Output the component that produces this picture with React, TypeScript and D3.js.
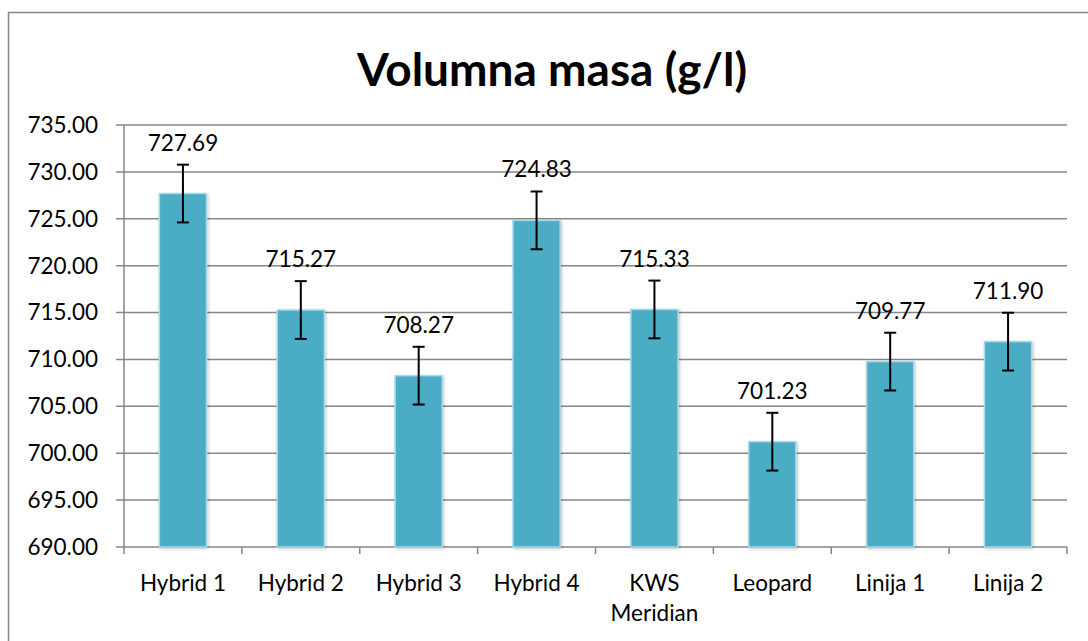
import * as React from "react";
import { scaleBand, scaleLinear, range } from "d3";

const categories = [
  "Hybrid 1",
  "Hybrid 2",
  "Hybrid 3",
  "Hybrid 4",
  "KWS Meridian",
  "Leopard",
  "Linija 1",
  "Linija 2",
];
const values = [727.69, 715.27, 708.27, 724.83, 715.33, 701.23, 709.77, 711.9];
const errors = [3.08, 3.08, 3.08, 3.08, 3.08, 3.08, 3.08, 3.08];
const yTicks = range(690, 735.01, 5);

const FONT = "Lato, 'Open Sans', sans-serif";

export default function App() {
  const width = 1088;
  const height = 641;
  const left = 124;
  const right = 1067;
  const top = 125;
  const bottom = 547;

  const x = scaleBand<string>().domain(categories).range([left, right]);
  const y = scaleLinear().domain([690, 735]).range([bottom, top]);
  const barW = x.bandwidth() * 0.4;
  const grid = "#868686";

  return (
    <svg
      width={width}
      height={height}
      style={{ position: "absolute", left: 0, top: 0, background: "#fff" }}
    >
      <defs>
        <filter id="sh" x="-20%" y="-5%" width="140%" height="110%">
          <feGaussianBlur in="SourceAlpha" stdDeviation="1.5" />
          <feOffset dx="1" dy="1" result="b" />
          <feComponentTransfer>
            <feFuncA type="linear" slope="0.25" />
          </feComponentTransfer>
          <feMerge>
            <feMergeNode />
            <feMergeNode in="SourceGraphic" />
          </feMerge>
        </filter>
      </defs>
      <rect x={8.5} y={12.5} width={1200} height={800} fill="#fff" stroke={grid} strokeWidth={1.5} />

      <text
        x={552}
        y={86}
        textAnchor="middle"
        fontFamily={FONT}
        fontWeight="bold"
        fontSize={46}
        fill="#000"
      >
        Volumna masa (g/l)
      </text>

      {yTicks.map((t) => (
        <g key={t}>
          <line x1={left - 8} x2={right} y1={y(t)} y2={y(t)} stroke={grid} strokeWidth={1.5} />
          <text
            x={98}
            y={y(t)}
            dy="0.35em"
            textAnchor="end"
            fontFamily={FONT}
            fontSize={22.5}
            fill="#000"
          >
            {t.toFixed(2)}
          </text>
        </g>
      ))}
      <line x1={left} x2={left} y1={top} y2={bottom} stroke={grid} strokeWidth={1.5} />
      {range(categories.length + 1).map((i) => {
        const xx = left + i * x.step();
        return <line key={i} x1={xx} x2={xx} y1={bottom} y2={bottom + 7} stroke={grid} strokeWidth={1.5} />;
      })}

      {categories.map((c, i) => {
        const cx = (x(c) as number) + x.bandwidth() / 2;
        const v = values[i];
        const e = errors[i];
        const words = c === "KWS Meridian" ? ["KWS", "Meridian"] : [c];
        return (
          <g key={c}>
            <rect
              x={cx - barW / 2}
              y={y(v)}
              width={barW}
              height={bottom - y(v)}
              fill="#4BACC6"
              stroke="#A9D8E5"
              strokeWidth={1.5}
              filter="url(#sh)"
            />
            <line x1={cx} x2={cx} y1={y(v + e)} y2={y(v - e)} stroke="#000" strokeWidth={2} />
            <line x1={cx - 6} x2={cx + 6} y1={y(v + e)} y2={y(v + e)} stroke="#000" strokeWidth={2} />
            <line x1={cx - 6} x2={cx + 6} y1={y(v - e)} y2={y(v - e)} stroke="#000" strokeWidth={2} />
            <text
              x={cx}
              y={y(v + e) - 14}
              textAnchor="middle"
              fontFamily={FONT}
              fontSize={22.5}
              fill="#000"
            >
              {v.toFixed(2)}
            </text>
            {words.map((w, k) => (
              <text
                key={k}
                x={cx}
                y={591 + k * 30}
                textAnchor="middle"
                fontFamily={FONT}
                fontSize={22.5}
                fill="#000"
              >
                {w}
              </text>
            ))}
          </g>
        );
      })}
    </svg>
  );
}
